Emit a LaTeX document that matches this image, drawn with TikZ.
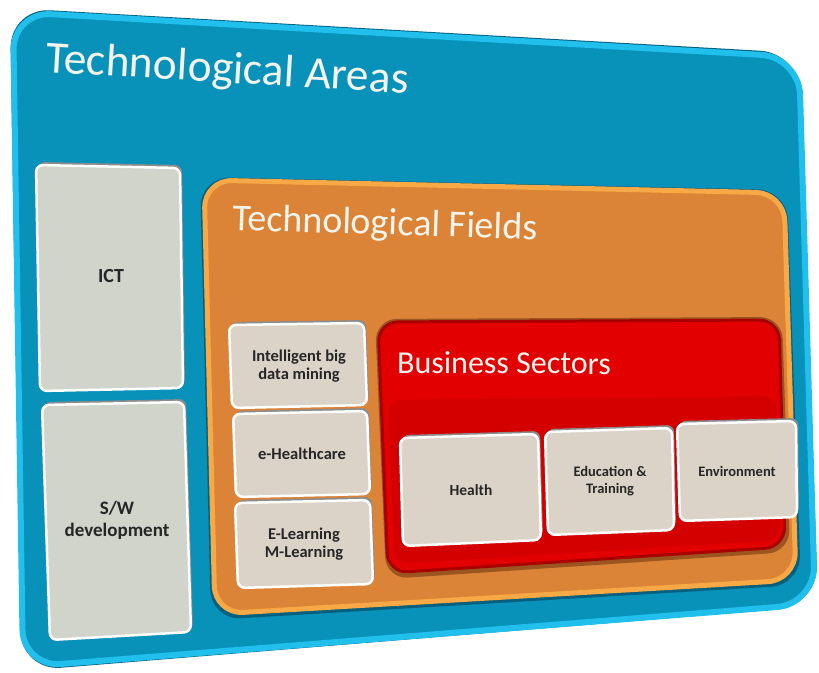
\documentclass[tikz,border=0pt]{standalone}
\usepackage{fontspec}
\setmainfont{Carlito}
\definecolor{blueF}{HTML}{0891B9}
\definecolor{blueRim}{HTML}{20BFEC}
\definecolor{blueDark}{HTML}{05607E}
\definecolor{orF}{HTML}{DB8437}
\definecolor{orRim}{HTML}{F8A845}
\definecolor{orDark}{HTML}{9A5520}
\definecolor{redF}{HTML}{E30000}
\definecolor{redLow}{HTML}{D40000}
\definecolor{redDark}{HTML}{A80000}
\definecolor{grayF}{HTML}{D0D4CA}
\definecolor{beigeF}{HTML}{DCD3C8}
\definecolor{titleC}{HTML}{F3F4EC}
\tikzset{
  boxshadow/.style={fill=black!45, rounded corners=7pt, shift={(2pt,3pt)}},
  graybox/.style={fill=grayF, draw=white, line width=2.5pt, rounded corners=7pt},
  beigebox/.style={fill=beigeF, draw=white, line width=2.5pt, rounded corners=7pt},
  title/.style={text=titleC, inner sep=0pt},
  lbl/.style={text=black!85, font=\bfseries, align=center, inner sep=0pt},
}
\begin{document}
\begin{tikzpicture}[x=1pt, y=-1pt]
\useasboundingbox (0,0) rectangle (819,672);
% outer blue panel
\fill[blueDark, rounded corners=40pt] (10,8) -- (800,53) -- (818,606) -- (21,671) -- cycle;
\filldraw[fill=blueF, draw=blueRim, line width=6pt, rounded corners=38pt] (13,12) -- (799,57) -- (815,604) -- (23,667) -- cycle;
% orange panel
\fill[blueDark, rounded corners=30pt] (200,177) -- (787,190) -- (801,585) -- (211,620) -- cycle;
\filldraw[fill=orF, draw=orRim, line width=5pt, rounded corners=28pt] (204,180) -- (784,193) -- (796,580) -- (215,614) -- cycle;
% red panel
\fill[orDark, rounded corners=22pt] (375,319) -- (782,317) -- (790,552) -- (386,579) -- cycle;
\filldraw[fill=redF, draw=redDark, line width=3pt, rounded corners=20pt] (378,322) -- (779,320) -- (785,547) -- (388,573) -- cycle;
\fill[redLow, rounded corners=14pt] (388,400) -- (776,396) -- (780,540) -- (395,564) -- cycle;
% titles
\node[title, anchor=base west, rotate=-3.4, font=\fontsize{45.5}{50}\selectfont] (ta) at (45,72) {Technological Areas};
\node[title, anchor=base west, rotate=-1.8, font=\fontsize{38}{44}\selectfont] (tf) at (232,230) {Technological Fields};
\node[title, anchor=base west, rotate=-0.3, font=\fontsize{32}{36}\selectfont] (bs) at (397,373) {Business Sectors};
% technological areas boxes
\fill[boxshadow] (36,165) -- (180,168) -- (183,388) -- (40,391) -- cycle;
\draw[graybox] (36,165) -- (180,168) -- (183,388) -- (40,391) -- cycle;
\node[lbl, font=\bfseries\fontsize{20}{23}\selectfont] (ict) at (111,276) {ICT};
\fill[boxshadow] (42,405) -- (184,402) -- (191,632) -- (50,640) -- cycle;
\draw[graybox] (42,405) -- (184,402) -- (191,632) -- (50,640) -- cycle;
\node[lbl, font=\bfseries\fontsize{19}{22}\selectfont] (sw) at (117,520) {S/W\\development};
% technological fields boxes
\fill[boxshadow] (229,325) -- (364,323) -- (367,405) -- (232,408) -- cycle;
\draw[beigebox] (229,325) -- (364,323) -- (367,405) -- (232,408) -- cycle;
\node[lbl, font=\bfseries\fontsize{16.5}{18.5}\selectfont] (ibd) at (299,366) {Intelligent big\\data mining};
\fill[boxshadow] (233,414) -- (367,411) -- (370,494) -- (236,497) -- cycle;
\draw[beigebox] (233,414) -- (367,411) -- (370,494) -- (236,497) -- cycle;
\node[lbl, font=\bfseries\fontsize{16.5}{18.5}\selectfont] (eh) at (302,454) {e-Healthcare};
\fill[boxshadow] (235,503) -- (370,500) -- (373,584) -- (238,588) -- cycle;
\draw[beigebox] (235,503) -- (370,500) -- (373,584) -- (238,588) -- cycle;
\node[lbl, font=\bfseries\fontsize{16.5}{18.5}\selectfont] (el) at (304,544) {E-Learning\\M-Learning};
% business sectors boxes
\fill[boxshadow] (400,438) -- (538,434) -- (541,540) -- (403,546) -- cycle;
\draw[beigebox] (400,438) -- (538,434) -- (541,540) -- (403,546) -- cycle;
\node[lbl, font=\bfseries\fontsize{15.5}{17.5}\selectfont] (he) at (471,490) {Health};
\fill[boxshadow] (545,432) -- (672,428) -- (674,530) -- (548,535) -- cycle;
\draw[beigebox] (545,432) -- (672,428) -- (674,530) -- (548,535) -- cycle;
\node[lbl, font=\bfseries\fontsize{14.5}{17}\selectfont] (ed) at (610,481) {Education \&\\Training};
\fill[boxshadow] (677,424) -- (796,421) -- (797,517) -- (680,521) -- cycle;
\draw[beigebox] (677,424) -- (796,421) -- (797,517) -- (680,521) -- cycle;
\node[lbl, font=\bfseries\fontsize{14.5}{17}\selectfont] (en) at (737,471) {Environment};
\end{tikzpicture}
\end{document}
